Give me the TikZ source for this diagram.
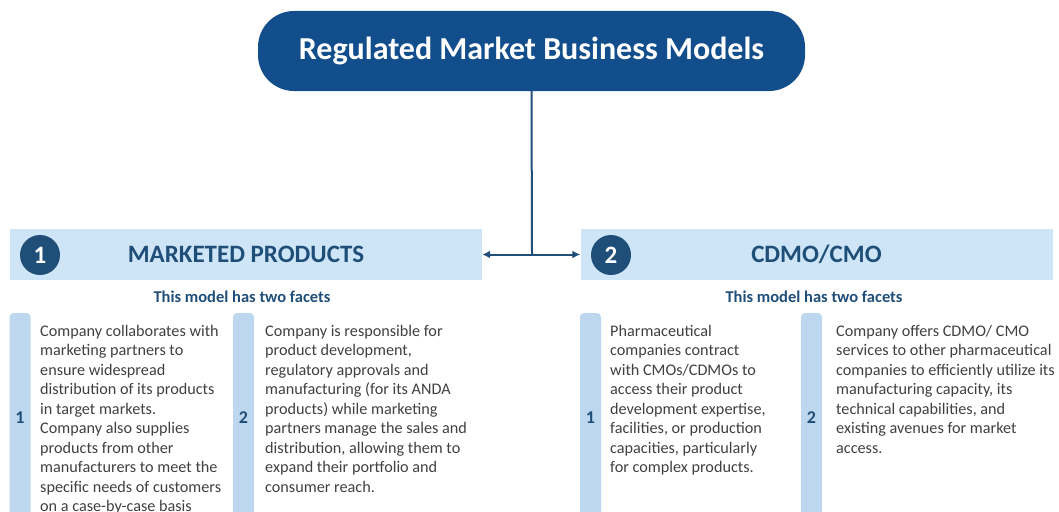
\documentclass[tikz,border=0pt]{standalone}
\usepackage{fontspec}
\setmainfont{Carlito}
\usetikzlibrary{arrows.meta,positioning}

\definecolor{navy}{HTML}{1F4E79}
\definecolor{titleblue}{HTML}{134E8C}
\definecolor{bandblue}{HTML}{CDE5F7}
\definecolor{barblue}{HTML}{BDD7EE}
\definecolor{bodygray}{HTML}{404040}

\begin{document}
\begin{tikzpicture}[
  x=1pt, y=-1pt,
  title/.style={fill=titleblue, rounded corners=36pt, text=white, font=\fontsize{32}{36}\selectfont\bfseries,
    minimum width=547pt, minimum height=80pt},
  band/.style={fill=bandblue, text=navy, font=\fontsize{25}{28}\selectfont\bfseries,
    minimum width=472pt, minimum height=51pt, inner sep=0pt},
  badge/.style={circle, fill=navy, text=white, font=\fontsize{25}{28}\selectfont\bfseries,
    minimum size=40pt, inner sep=0pt},
  facets/.style={text=navy, font=\fontsize{16.5}{19}\selectfont\bfseries},
  bar/.style={fill=barblue, rounded corners=4pt, text=navy, font=\fontsize{18}{20}\selectfont\bfseries,
    minimum width=21pt, minimum height=210pt, inner sep=0pt},
  body/.style={anchor=north west, align=left, inner sep=0pt, text=bodygray,
    font=\fontsize{16.2}{19.5}\selectfont},
  arr/.style={-{Latex[length=8pt,width=8pt]}, navy, line width=2pt}
]
\useasboundingbox (0,0) rectangle (1059,511);

\node[title] (top) at (531.5,51) {Regulated Market Business Models};

\node[band] (marketed) at (246,254.5) {MARKETED PRODUCTS};
\node[band] (cdmo) at (816.5,254.5) {CDMO/CMO};
\node[badge] (num1) at (40,255) {1};
\node[badge] (num2) at (611,255) {2};

\coordinate (hub) at (532,254.5);
\draw[navy, line width=2pt] (top.south) -- (hub);
\draw[arr] (hub) -- (marketed.east);
\draw[arr] (hub) -- (cdmo.west);

\node[facets] (facetsL) at (242,297) {This model has two facets};
\node[facets] (facetsR) at (814,297) {This model has two facets};

% facet bars
\node[bar] (barL1) at (20,418) {1};
\node[bar] (barL2) at (243.5,418) {2};
\node[bar] (barR1) at (590.5,418) {1};
\node[bar] (barR2) at (811.5,418) {2};

\node[body] (textL1) at (40,325) {Company collaborates with\\
marketing partners to\\
ensure widespread\\
distribution of its products\\
in target markets.\\
Company also supplies\\
products from other\\
manufacturers to meet\ the\\
specific needs of customers\\
on a case-by-case basis};

\node[body] (textL2) at (265,325) {Company is responsible for\\
product development,\\
regulatory approvals and\\
manufacturing (for its ANDA\\
products) while marketing\\
partners manage the sales and\\
distribution, allowing them to\\
expand their portfolio and\\
consumer reach.};

\node[body] (textR1) at (610,325) {Pharmaceutical\\
companies contract\\
with CMOs/CDMOs to\\
access their product\\
development expertise,\\
facilities, or production\\
capacities, particularly\\
for complex products.};

\node[body] (textR2) at (836,325) {Company offers CDMO/ CMO\\
services to other pharmaceutical\\
companies to efficiently utilize its\\
manufacturing capacity, its\\
technical capabilities, and\\
existing avenues for market\\
access.};

\end{tikzpicture}
\end{document}
